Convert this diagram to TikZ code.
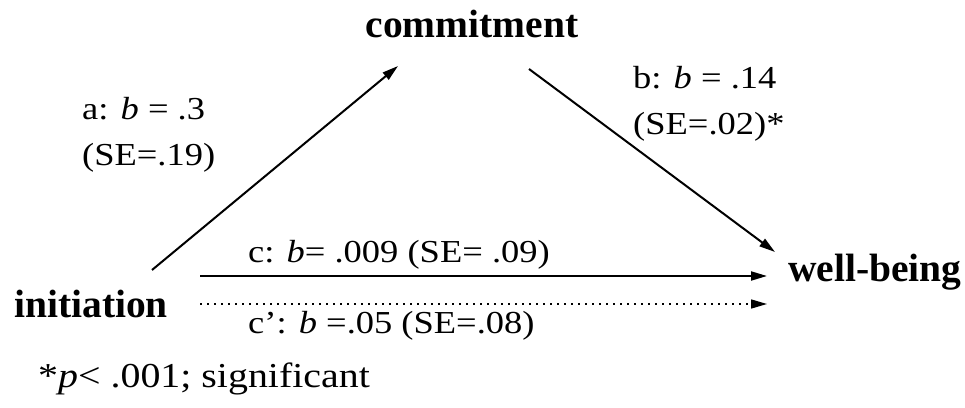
\documentclass[tikz,border=0pt]{standalone}
\usepackage{fontspec}
\setmainfont{Liberation Serif}
\newfontfamily\lblfont{Liberation Serif}[FakeStretch=1.14]
\usetikzlibrary{arrows.meta}

\begin{document}
\begin{tikzpicture}[x=1pt, y=1pt,
  var/.style={font=\fontsize{39.5}{44}\selectfont\bfseries, inner sep=0pt},
  lbl/.style={font={\lblfont\fontsize{32}{46}\selectfont}, inner sep=0pt, align=left},
  arr/.style={-{Triangle[length=16pt, width=9pt]}, line width=2pt},
  dotarr/.style={arr, line width=1.5pt, dash pattern=on 1.5pt off 5.5pt}]
\useasboundingbox (0,0) rectangle (965,407);
% variables
\node[var, anchor=base] (commit) at (472,369) {commitment};
\node[var, anchor=base west] (init) at (14,90) {initiation};
\node[var, anchor=base west] (well) at (788,125) {well-being};
% paths
\draw[arr] ([shift={(138,47)}]init.base west) -- ([shift={(-74,-28)}]commit.base);
\draw[arr] ([shift={(57,-31)}]commit.base) -- ([shift={(-13,30)}]well.base west);
\draw[arr] ([shift={(186,41)}]init.base west) -- ([shift={(-21,6)}]well.base west);
\draw[dotarr] ([shift={(186,13)}]init.base west) -- ([shift={(-21,-22)}]well.base west);
% coefficients
\node[lbl, anchor=base west] (alab) at (82,241) {a: \textit{b} = .3\\(SE=.19)};
\node[lbl, anchor=base west] (blab) at (633,272) {b: \textit{b} = .14\\(SE=.02)*};
\node[lbl, anchor=base west] (clab) at (248,145) {c: \textit{b}= .009 (SE= .09)};
\node[lbl, anchor=base west] (cplab) at (248,74) {c’: \textit{b} =.05 (SE=.08)};
\node[lbl, font={\lblfont\fontsize{35}{40}\selectfont}, anchor=base west] (note) at (38,20) {*\textit{p}< .001; significant};
\end{tikzpicture}
\end{document}
